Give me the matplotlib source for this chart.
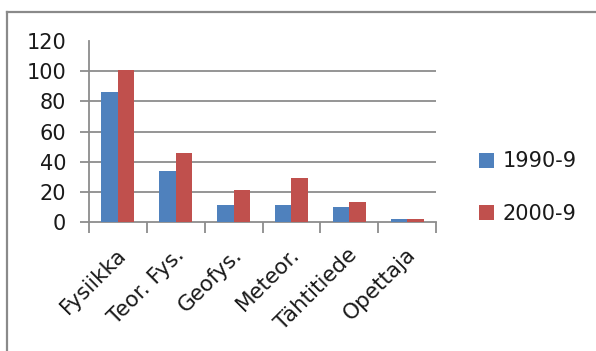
import matplotlib
matplotlib.use("Agg")
import matplotlib.pyplot as plt
import matplotlib.transforms as mtransforms
import numpy as np

plt.rcParams['font.family'] = ['DejaVu Sans']

categories = ["Fysiikka", "Teor. Fys.", "Geofys.", "Meteor.", "Tähtitiede", "Opettaja"]
series_names = ["1990-9", "2000-9"]
values_1990 = [86, 34, 11, 11, 10, 2]
values_2000 = [101, 46, 21, 29, 13, 2]
y_ticks = [0, 20, 40, 60, 80, 100, 120]

blue = "#4F81BD"
red = "#C0504D"
grid_col = "#8C8C8C"
text_col = "#1a1a1a"

fig = plt.figure(figsize=(5.96, 3.51), dpi=100)

# outer chart frame (top and left edges)
fig.add_artist(plt.Line2D([6.5 / 596, 6.5 / 596], [0, 1 - 11.5 / 351],
                          transform=fig.transFigure, color="#8A8A8A", lw=1.6))
fig.add_artist(plt.Line2D([6.5 / 596, 1], [1 - 11.5 / 351, 1 - 11.5 / 351],
                          transform=fig.transFigure, color="#8A8A8A", lw=1.6))

ax = fig.add_axes([89 / 596, 1 - 222 / 351, (436 - 89) / 596, (222 - 41) / 351])

x = np.arange(len(categories))
w = 0.285
ax.bar(x - w / 2, values_1990, width=w, color=blue, label=series_names[0], zorder=3)
ax.bar(x + w / 2, values_2000, width=w, color=red, label=series_names[1], zorder=3)

ax.set_xlim(-0.5, len(categories) - 0.5)
ax.set_ylim(0, 120)
ax.set_yticks(y_ticks)
ax.yaxis.grid(True, color=grid_col, lw=1.3, zorder=0)
ax.set_axisbelow(True)

for s in ["top", "right"]:
    ax.spines[s].set_visible(False)
for s in ["left", "bottom"]:
    ax.spines[s].set_color(grid_col)
    ax.spines[s].set_linewidth(1.3)

ax.tick_params(axis="y", length=6.5, width=1.3, color=grid_col, pad=10,
               labelsize=15, labelcolor=text_col)
# no tick or gridline at the top value
top_tick = ax.yaxis.get_major_ticks()[-1]
top_tick.tick1line.set_visible(False)
top_tick.gridline.set_visible(False)
ax.yaxis.get_major_ticks()[0].gridline.set_visible(False)

# category boundary ticks on x axis, labels at centres
ax.set_xticks(np.arange(len(categories) + 1) - 0.5, minor=False)
ax.set_xticklabels([])
ax.tick_params(axis="x", which="major", length=8, width=1.3, color=grid_col)
ax.set_xticks(x, minor=True)
ax.set_xticklabels(categories, minor=True, rotation=45, ha="right", va="top",
                   rotation_mode="anchor", fontsize=15.5, color=text_col)
ax.tick_params(axis="x", which="minor", length=0, pad=16)
shift = mtransforms.ScaledTranslation(-2 / 100, 0, fig.dpi_scale_trans)
for lbl in ax.get_xticklabels(minor=True):
    lbl.set_transform(lbl.get_transform() + shift)

leg = fig.legend(loc="upper left", bbox_to_anchor=(469 / 596, 1 - 141 / 351),
                 frameon=False, fontsize=15, handlelength=0.72, handleheight=0.72,
                 handletextpad=0.4, labelspacing=1.55, borderpad=0)
for t in leg.get_texts():
    t.set_color(text_col)

fig.savefig("out.png", dpi=100)
